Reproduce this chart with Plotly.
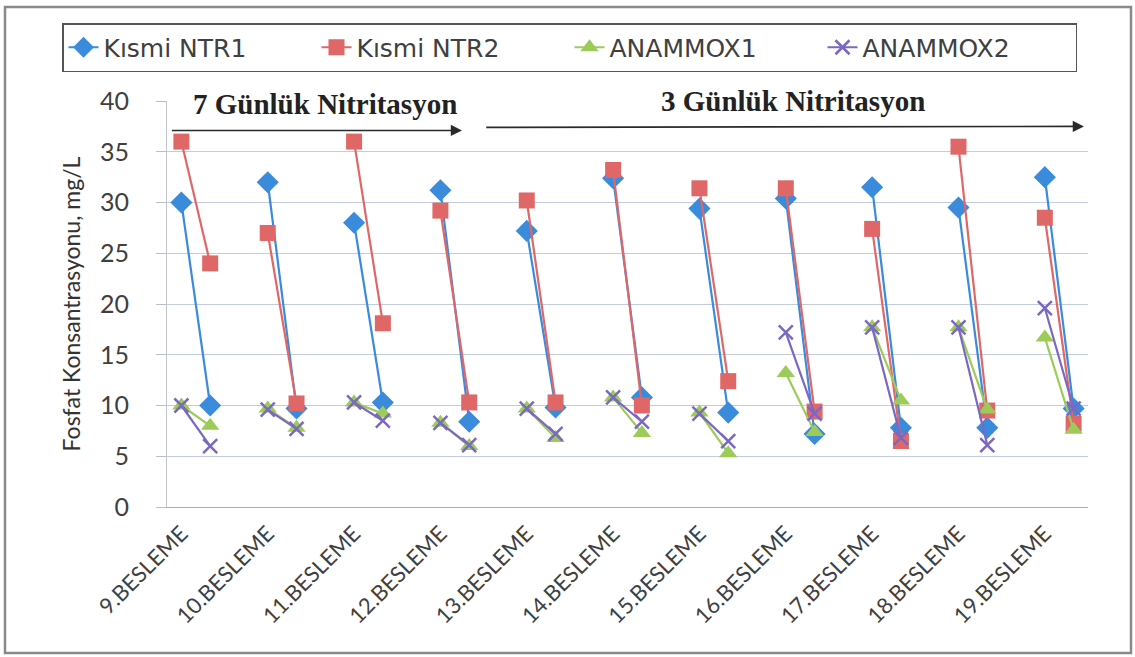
import plotly.graph_objects as go

categories = ["9.BESLEME", "10.BESLEME", "11.BESLEME", "12.BESLEME", "13.BESLEME",
              "14.BESLEME", "15.BESLEME", "16.BESLEME", "17.BESLEME", "18.BESLEME", "19.BESLEME"]

ntr1_start = [30, 32, 28, 31.2, 27.2, 32.4, 29.4, 30.4, 31.5, 29.5, 32.5]
ntr1_end = [10, 9.7, 10.3, 8.4, 9.8, 10.8, 9.3, 7.2, 7.8, 7.8, 9.7]
ntr2_start = [36, 27, 36, 29.2, 30.2, 33.2, 31.4, 31.4, 27.4, 35.5, 28.5]
ntr2_end = [24, 10.2, 18.1, 10.3, 10.3, 10.0, 12.4, 9.4, 6.5, 9.5, 8.2]
an1_start = [10, 9.7, 10.3, 8.3, 9.7, 10.8, 9.3, 13.2, 17.7, 17.7, 16.7]
an1_end = [8, 7.8, 9.2, 6.0, 6.8, 7.3, 5.3, 7.4, 10.5, 9.6, 7.6]
an2_start = [10, 9.6, 10.3, 8.3, 9.7, 10.8, 9.2, 17.2, 17.7, 17.7, 19.6]
an2_end = [6, 7.7, 8.5, 6.1, 7.2, 8.4, 6.5, 9.2, 6.8, 6.1, 9.7]

series_names = ["Kısmi NTR1", "Kısmi NTR2", "ANAMMOX1", "ANAMMOX2"]
y_ticks = [0, 5, 10, 15, 20, 25, 30, 35, 40]

SLOTS = 3  # start, end, gap per feeding


def build(starts, ends):
    xs, ys = [], []
    for i, (a, b) in enumerate(zip(starts, ends)):
        xs += [SLOTS * i, SLOTS * i + 1, None]
        ys += [a, b, None]
    return xs, ys


styles = [
    dict(color="#3A8BDB", symbol="diamond", size=17, lw=0),
    dict(color="#E06767", symbol="square", size=16, lw=0),
    dict(color="#9CCB5A", symbol="triangle-up", size=16, lw=0),
    dict(color="#7A68C2", symbol="x-thin", size=14, lw=2.5),
]
data = [(ntr1_start, ntr1_end), (ntr2_start, ntr2_end), (an1_start, an1_end), (an2_start, an2_end)]

fig = go.Figure()
for name, (s, e), st in zip(series_names, data, styles):
    xs, ys = build(s, e)
    marker = dict(symbol=st["symbol"], size=st["size"], color=st["color"])
    if st["lw"]:
        marker["line"] = dict(color=st["color"], width=st["lw"])
    fig.add_trace(go.Scatter(x=xs, y=ys, name=name, mode="lines+markers",
                             line=dict(color=st["color"], width=2.2),
                             marker=marker, connectgaps=False))

tickvals = [SLOTS * i for i in range(len(categories))]

fig.update_layout(
    width=1135, height=657,
    margin=dict(l=167, r=47, t=101, b=150, autoexpand=False),
    paper_bgcolor="white", plot_bgcolor="white",
    font=dict(family="Lato", color="#404040"),
    showlegend=True,
    legend=dict(orientation="h", xref="paper", yref="paper",
                x=(62 - 167) / 921, y=(507 - 23) / 406, xanchor="left", yanchor="top",
                font=dict(size=25, color="#404040", family="DejaVu Sans"),
                bordercolor="#555555", borderwidth=1.5, bgcolor="white",
                entrywidth=208, entrywidthmode="pixels", tracegroupgap=0),
    xaxis=dict(range=[-0.5, 31.5], tickvals=tickvals, ticktext=categories,
               tickangle=-45, tickfont=dict(size=22, color="#404040"),
               showgrid=False, zeroline=False, showline=True, linecolor="#A8AEBE",
               linewidth=1.2, ticks="", ticklabelstandoff=4, automargin=False),
    yaxis=dict(range=[0, 40], tickvals=y_ticks, tickfont=dict(size=25, color="#404040"),
               showgrid=True, gridcolor="#C3CBDF", gridwidth=1.2, zeroline=False,
               showline=True, linecolor="#C0C4CC", linewidth=1.2,
               ticks="outside", ticklen=10, tickcolor="#B8BECC",
               ticklabelstandoff=22, automargin=False,
               title=dict(text="Fosfat Konsantrasyonu, mg/L",
                          font=dict(size=23, color="#333333"), standoff=12)),
)

# outer frame
fig.add_shape(type="rect", xref="paper", yref="paper",
              x0=(5 - 167) / 921, x1=(1131 - 167) / 921,
              y0=(507 - 653) / 406, y1=(507 - 7) / 406,
              line=dict(color="#8A8A8A", width=2.5), layer="below")

# period annotations
fig.add_annotation(x=5.0, y=39.7, xref="x", yref="y", text="<b>7 Günlük Nitritasyon</b>",
                   showarrow=False, font=dict(family="Liberation Serif", size=29, color="#222222"))
fig.add_annotation(x=21.26, y=40.0, xref="x", yref="y", text="<b>3 Günlük Nitritasyon</b>",
                   showarrow=False, font=dict(family="Liberation Serif", size=29, color="#222222"))
fig.add_annotation(x=9.75, y=37.1, ax=-0.38, ay=37.1, xref="x", yref="y", axref="x", ayref="y",
                   text="", showarrow=True, arrowhead=2, arrowsize=1.4, arrowwidth=1.6,
                   arrowcolor="#2A2A2A")
fig.add_annotation(x=31.36, y=37.5, ax=10.54, ay=37.4, xref="x", yref="y", axref="x", ayref="y",
                   text="", showarrow=True, arrowhead=2, arrowsize=1.4, arrowwidth=1.6,
                   arrowcolor="#2A2A2A")

fig.write_html("out.html", config={"displayModeBar": False},
               post_script="document.body.style.margin='0px';")
